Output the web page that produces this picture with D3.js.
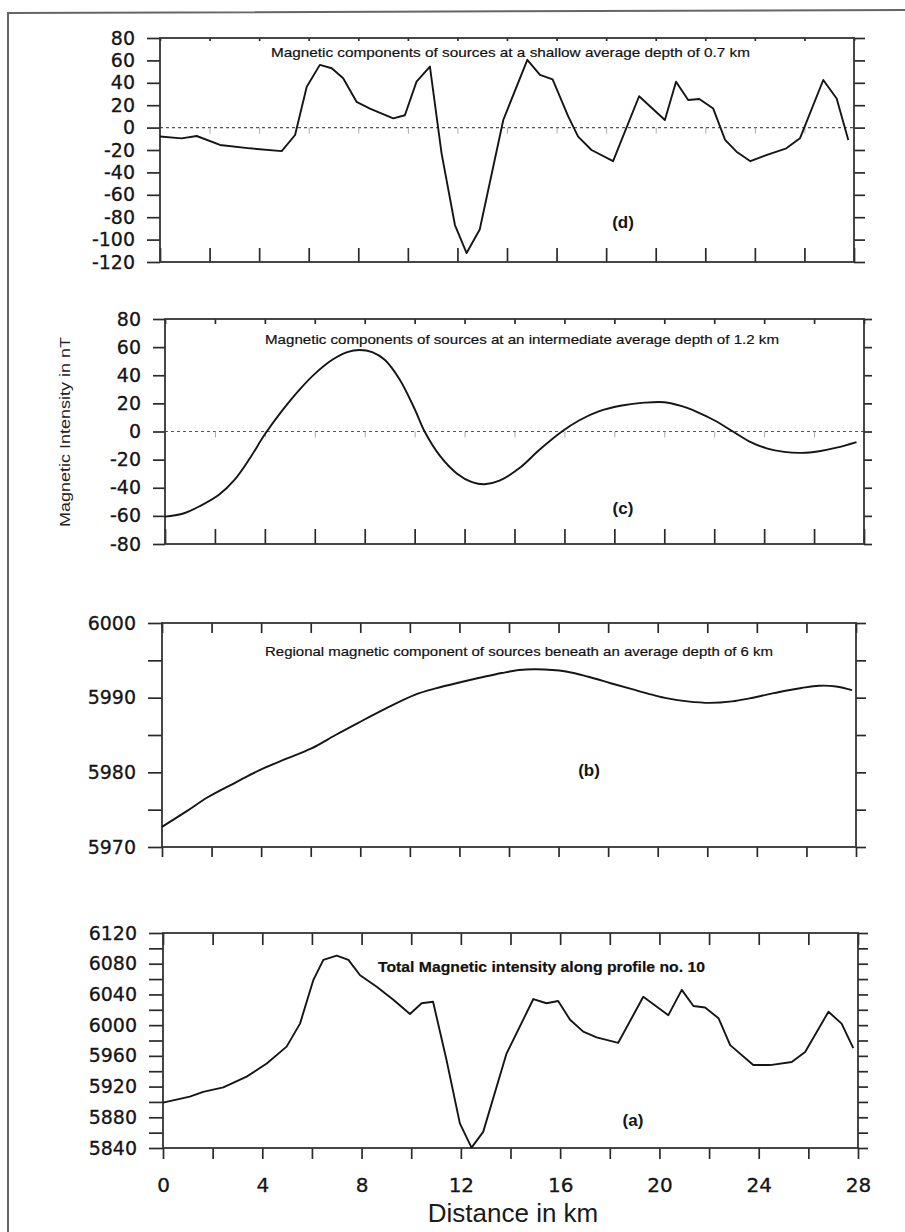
<!DOCTYPE html>
<meta charset="utf-8">
<style>
body { margin: 0; background: #fff; }
svg { display: block; font-family: "Liberation Sans", Arial, sans-serif; }
.curve { fill: none; stroke: #151515; stroke-width: 1.9px; stroke-linejoin: round; }
.frame { fill: none; stroke: #333; stroke-width: 1.8px; }
.zero { stroke: #555; stroke-width: 1.2px; stroke-dasharray: 3,3; }
.ax path.domain { display: none; }
.ax line { stroke: #2a2a2a; stroke-width: 1.7px; }
.ax text { font-family: "DejaVu Sans", sans-serif; font-size: 19px; fill: #151515; stroke: #151515; stroke-width: 0.3px; }
.zt line { stroke: #aaa; stroke-width: 1px; }
.title { font-size: 13.5px; fill: #111; stroke: #111; stroke-width: 0.2px; }
.tag { font-size: 17px; font-weight: bold; fill: #151515; }
</style>
<svg width="905" height="1232"></svg>
<script src="https://d3js.org/d3.v7.min.js"></script>
<script>
// values (distance in km, intensity in nT)
var kmD = [0, 0.87, 1.48, 2.42, 3.63, 4.91, 5.45, 5.92, 6.45, 6.93, 7.39, 7.93, 8.47, 9.41, 9.88, 10.35, 10.89, 11.36, 11.9, 12.37, 12.9, 13.85, 14.82, 15.33, 15.84, 16.47, 16.87, 17.41, 18.28, 19.33, 20.37, 20.82, 21.31, 21.76, 22.32, 22.8, 23.26, 23.82, 24.46, 25.27, 25.82, 26.76, 27.3, 27.77];
var nTD = [-8, -9.6, -7.5, -15.5, -18.5, -21, -6.6, 36.5, 56, 53, 44, 23, 17, 8.3, 11, 41, 54.5, -23, -87, -112, -91, 6.8, 60.5, 47, 43, 10, -8, -20, -30, 28, 6.8, 41, 24.6, 25.5, 17, -11, -21.5, -30, -24.5, -18.5, -9.6, 42.5, 26, -11];

var kmC = [0, 0.7, 1.4, 2.16, 2.8, 3.4, 4, 4.7, 5.4, 6, 6.7, 7.3, 7.8, 8.3, 8.8, 9.4, 10, 10.4, 11, 11.7, 12.3, 12.8, 13.4, 14.2, 15, 15.9, 16.6, 17.4, 18.3, 19.2, 20, 20.7, 21.3, 22, 22.75, 23.4, 24.1, 24.8, 25.5, 26.2, 26.9, 27.7];
var nTC = [-60.5, -58.5, -53, -45, -34, -19, -2, 15, 30, 41, 51, 56.5, 58, 56.5, 51, 37, 16, 0, -17, -30, -36, -37.5, -35, -26, -13, 0, 8, 14.5, 18.5, 20.5, 20.8, 18, 14, 8, 0, -7, -12, -14.5, -15.2, -14, -11.5, -7.5];

var kmB = [0, 1, 1.86, 3, 3.94, 5, 6.03, 7, 7.9, 9, 10.22, 11, 12.08, 13, 13.71, 14.4, 15.1, 16.3, 17.2, 18.14, 19, 19.77, 20.4, 21.2, 22.1, 23, 23.7, 24.4, 25.1, 25.8, 26.5, 27.2, 27.84];
var nTB = [5972.7, 5974.8, 5976.7, 5978.7, 5980.3, 5981.8, 5983.2, 5985, 5986.6, 5988.5, 5990.4, 5991.2, 5992.1, 5992.8, 5993.3, 5993.7, 5993.8, 5993.5, 5992.8, 5991.9, 5991.1, 5990.4, 5989.9, 5989.5, 5989.3, 5989.5, 5989.9, 5990.4, 5990.9, 5991.3, 5991.6, 5991.5, 5991];

var kmA = [0, 1.08, 1.62, 2.43, 3.37, 4.18, 4.98, 5.52, 6.06, 6.46, 7.0, 7.47, 7.94, 8.61, 9.28, 9.95, 10.42, 10.88, 11.42, 11.96, 12.43, 12.9, 13.84, 14.92, 15.45, 15.92, 16.4, 16.93, 17.47, 18.34, 19.35, 20.36, 20.9, 21.37, 21.84, 22.38, 22.85, 23.78, 24.46, 25.33, 25.87, 26.81, 27.34, 27.81];
var nTA = [5899, 5907, 5913, 5919, 5933, 5950, 5972, 6002, 6059, 6085, 6090.5, 6085, 6065, 6050, 6033, 6014.5, 6028.5, 6030.5, 5955, 5872, 5840.5, 5861, 5963, 6034, 6028.5, 6031.5, 6007, 5991.5, 5984, 5977, 6037, 6013, 6046, 6025, 6023, 6009, 5974, 5948, 5948, 5952, 5965, 6017.5, 6002, 5970];

var ticksD = [80, 60, 40, 20, 0, -20, -40, -60, -80, -100, -120];
var ticksC = [80, 60, 40, 20, 0, -20, -40, -60, -80];
var ticksB = [6000, 5995, 5990, 5985, 5980, 5975, 5970];
var labelsB = [6000, 5990, 5980, 5970];
var ticksA = d3.range(5840, 6121, 20);
var labelsA = [6120, 6080, 6040, 6000, 5960, 5920, 5880, 5840];
var kmTicks = d3.range(0, 29, 2);
var kmLabels = [0, 4, 8, 12, 16, 20, 24, 28];

var titleD = "Magnetic components of sources at  a  shallow average depth of 0.7 km";
var titleC = "Magnetic components of sources at an intermediate average depth of 1.2 km";
var titleB = "Regional magnetic component of sources beneath an average depth of 6 km";
var titleA = "Total Magnetic intensity along profile no. 10";

var svg = d3.select("svg");

// scanned page border
svg.append("path")
  .attr("d", "M8,1232 L8,13 L905,10")
  .attr("fill", "none").attr("stroke", "#666").attr("stroke-width", 2);

var panels = [
  {km: kmD, val: nTD, domain: [-120, 80], ticks: ticksD, labels: ticksD, zero: true, curve: d3.curveLinear,
   left: 160, right: 854, top: 38, bottom: 262, tl: 13, tr: 11, tb: -14, tt: -3,
   title: titleD, tx: 271, tw: 479, ty: 57, tag: "(d)", gx: 623, gy: 228},
  {km: kmC, val: nTC, domain: [-80, 80], ticks: ticksC, labels: ticksC, zero: true, curve: d3.curveCatmullRom,
   left: 165, right: 864, top: 319, bottom: 544, tl: 12, tr: 8, tb: -15, tt: -5,
   title: titleC, tx: 265, tw: 514, ty: 344, tag: "(c)", gx: 623, gy: 514},
  {km: kmB, val: nTB, domain: [5970, 6000], ticks: ticksB, labels: labelsB, zero: false, curve: d3.curveCatmullRom,
   left: 162, right: 856, top: 623, bottom: 847, tl: 14, tr: 10, tb: 10, tt: -10,
   title: titleB, tx: 265, tw: 508, ty: 656, tag: "(b)", gx: 589, gy: 776},
  {km: kmA, val: nTA, domain: [5840, 6120], ticks: ticksA, labels: labelsA, zero: false, curve: d3.curveLinear,
   left: 163, right: 858, top: 933, bottom: 1148, tl: 14, tr: 10, tb: 11, tt: -12,
   title: titleA, tx: 378, tw: 327, ty: 972, tag: "(a)", gx: 633, gy: 1126, bold: true, xlabels: true}
];

panels.forEach(function(p) {
  var x = d3.scaleLinear().domain([0, 28]).range([p.left, p.right]);
  var y = d3.scaleLinear().domain(p.domain).range([p.bottom, p.top]);
  var g = svg.append("g");

  if (p.zero) {
    g.append("line").attr("class", "zero")
      .attr("x1", p.left).attr("x2", p.right)
      .attr("y1", y(0)).attr("y2", y(0));
    g.append("g").attr("class", "ax zt")
      .attr("transform", `translate(0,${y(0)})`)
      .call(d3.axisBottom(x).tickValues(kmTicks.slice(1, -1)).tickSizeInner(6).tickSizeOuter(0).tickFormat(""));
  }

  g.append("g").attr("class", "ax")
    .attr("transform", `translate(${p.left},0)`)
    .call(d3.axisLeft(y).tickValues(p.ticks).tickSizeInner(p.tl).tickSizeOuter(0).tickPadding(12)
      .tickFormat(d => p.labels.includes(d) ? d : ""));

  g.append("g").attr("class", "ax")
    .attr("transform", `translate(${p.right},0)`)
    .call(d3.axisRight(y).tickValues(p.ticks).tickSizeInner(p.tr).tickSizeOuter(0).tickFormat(""));

  g.append("g").attr("class", "ax")
    .attr("transform", `translate(0,${p.bottom})`)
    .call(d3.axisBottom(x).tickValues(kmTicks).tickSizeInner(p.tb).tickSizeOuter(0).tickPadding(19)
      .tickFormat(d => p.xlabels && kmLabels.includes(d) ? d : ""))
    .selectAll("text").style("font-size", "20px");

  g.append("g").attr("class", "ax")
    .attr("transform", `translate(0,${p.top})`)
    .call(d3.axisTop(x).tickValues(kmTicks).tickSizeInner(p.tt).tickSizeOuter(0).tickFormat(""));

  g.append("rect").attr("class", "frame")
    .attr("x", p.left).attr("y", p.top)
    .attr("width", p.right - p.left).attr("height", p.bottom - p.top);

  g.append("path").attr("class", "curve")
    .attr("d", d3.line().curve(p.curve).x((d, i) => x(d)).y((d, i) => y(p.val[i]))(p.km));

  g.append("text").attr("class", "title")
    .attr("x", p.tx).attr("y", p.ty)
    .attr("textLength", p.tw).attr("lengthAdjust", "spacingAndGlyphs")
    .style("font-size", p.bold ? "15px" : null)
    .style("font-weight", p.bold ? "bold" : null)
    .text(p.title);

  g.append("text").attr("class", "tag")
    .attr("x", p.gx).attr("y", p.gy).attr("text-anchor", "middle")
    .text(p.tag);
});

svg.append("text")
  .attr("x", 513).attr("y", 1222)
  .attr("text-anchor", "middle")
  .style("font-size", "26px").style("fill", "#1a1a1a")
  .text("Distance in km");

svg.append("text")
  .attr("transform", "translate(70,432) rotate(-90)")
  .attr("text-anchor", "middle")
  .attr("textLength", 190).attr("lengthAdjust", "spacingAndGlyphs")
  .style("font-size", "15px").style("fill", "#222")
  .text("Magnetic Intensity in nT");
</script>
